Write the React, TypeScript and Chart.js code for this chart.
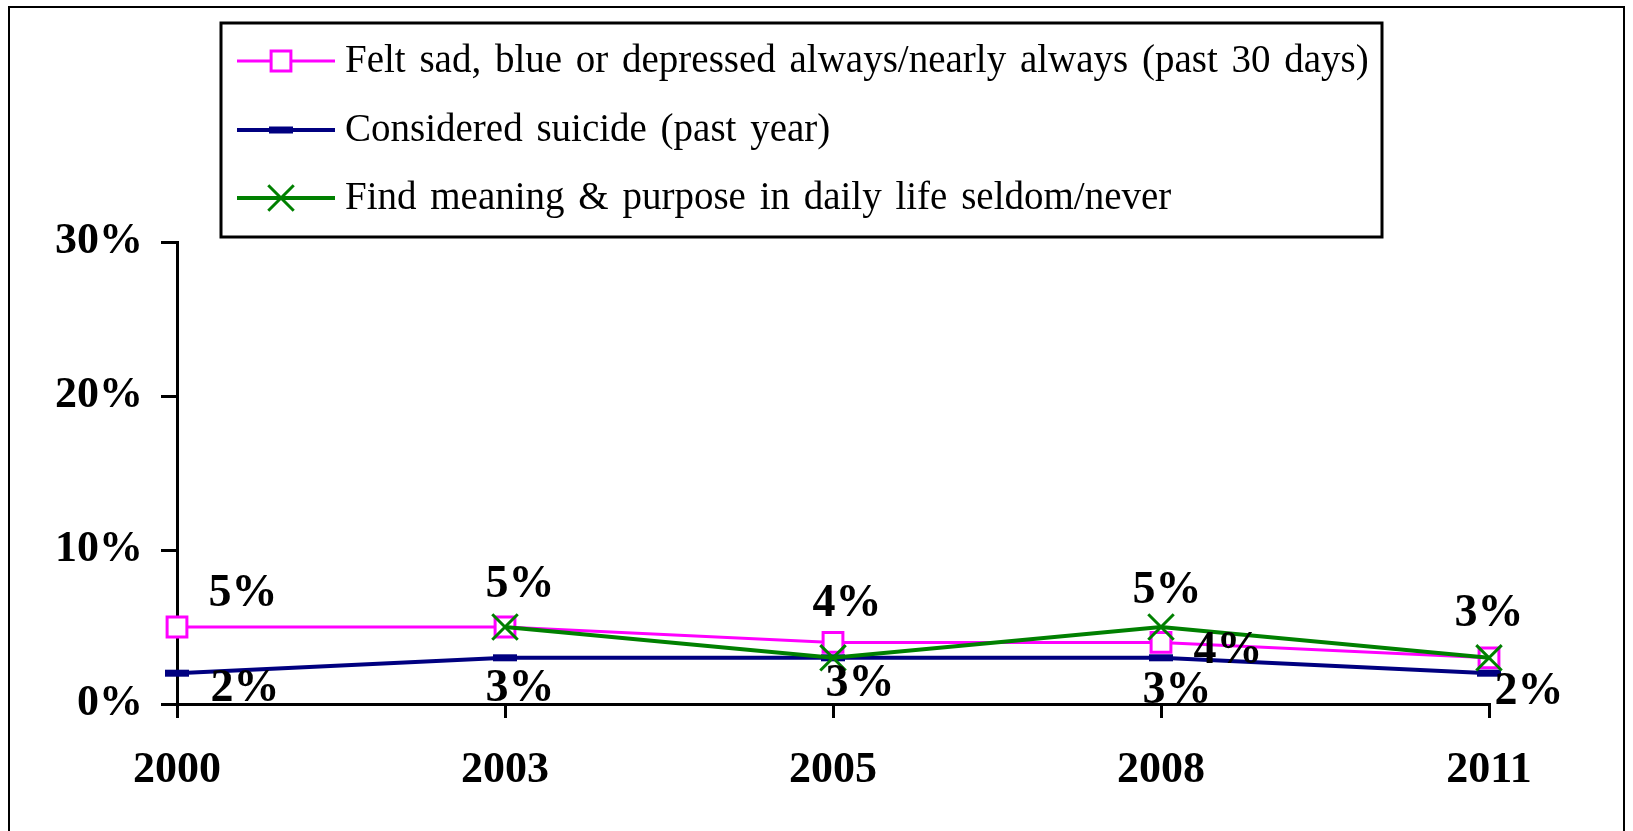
import React, { useEffect, useRef } from "react";
import { Chart, registerables } from "chart.js";
import { drawPoint } from "chart.js/helpers";

Chart.register(...registerables);

const years = ["2000", "2003", "2005", "2008", "2011"];
const feltSad = [5, 5, 4, 4, 3];
const consideredSuicide = [2, 3, 3, 3, 2];
const findMeaning = [null, 5, 3, 5, 3];
const seriesNames = [
  "Felt sad, blue or depressed always/nearly always (past 30 days)",
  "Considered suicide (past year)",
  "Find meaning & purpose in daily life seldom/never",
];
const yTickValues = [0, 10, 20, 30];

// label offsets (style only): [dx, dy] per point, null = hidden
const labelOffsets = [
  [[66, -33], [15, -42], [14, -38], [67, 9], [0, -44]],
  [[68, 16], [15, 31], null, [16, 33], [40, 19]],
  [null, null, [27, 26], [6, -36], null],
];

const SERIF = '"Liberation Serif", "Times New Roman", serif';

const frameAndLabels = {
  id: "frameAndLabels",
  beforeDraw(chart: any) {
    const ctx = chart.ctx;
    ctx.save();
    ctx.fillStyle = "#fff";
    ctx.fillRect(0, 0, chart.width, chart.height);
    ctx.strokeStyle = "#000";
    ctx.lineWidth = 2;
    ctx.strokeRect(9, 7, 1615, 900);
    ctx.restore();
  },
  afterDatasetsDraw(chart: any) {
    const ctx = chart.ctx;
    ctx.save();
    ctx.fillStyle = "#000";
    ctx.font = `bold 46px ${SERIF}`;
    ctx.textAlign = "center";
    ctx.textBaseline = "middle";
    chart.data.datasets.forEach((ds: any, i: number) => {
      const meta = chart.getDatasetMeta(i);
      meta.data.forEach((el: any, j: number) => {
        const v = ds.data[j];
        const off = labelOffsets[i][j];
        if (v == null || !off) return;
        ctx.fillText(`${v}%`, el.x + off[0], el.y + off[1]);
      });
    });
    ctx.restore();
  },
  afterDraw(chart: any) {
    const ctx = chart.ctx;
    ctx.save();
    // legend box
    ctx.fillStyle = "#fff";
    ctx.fillRect(221, 23, 1161, 214);
    ctx.strokeStyle = "#000";
    ctx.lineWidth = 3;
    ctx.strokeRect(221, 23, 1161, 214);
    const rows = [61, 130, 198];
    chart.data.datasets.forEach((ds: any, i: number) => {
      const y = rows[i];
      ctx.strokeStyle = ds.borderColor;
      ctx.lineWidth = ds.borderWidth;
      ctx.beginPath();
      ctx.moveTo(237, y);
      ctx.lineTo(335, y);
      ctx.stroke();
      ctx.fillStyle = ds.pointBackgroundColor;
      ctx.strokeStyle = ds.pointBorderColor;
      ctx.lineWidth = ds.pointBorderWidth;
      drawPoint(
        ctx,
        { pointStyle: ds.pointStyle, radius: ds.pointRadius, borderWidth: ds.pointBorderWidth, rotation: 0 } as any,
        281,
        y
      );
      ctx.fillStyle = "#000";
      ctx.font = `39px ${SERIF}`;
      try { (ctx as any).wordSpacing = "4px"; } catch (e) {}
      ctx.textAlign = "left";
      ctx.textBaseline = "middle";
      ctx.fillText(ds.label, 345, y + 1);
    });
    ctx.restore();
  },
};

export default function App() {
  const ref = useRef<HTMLCanvasElement>(null);
  useEffect(() => {
    const chart = new Chart(ref.current!, {
      type: "line",
      data: {
        labels: years,
        datasets: [
          {
            label: seriesNames[0],
            data: feltSad,
            borderColor: "#FF00FF",
            borderWidth: 3,
            pointStyle: "rect",
            pointRadius: 14,
            pointBorderWidth: 3,
            pointBackgroundColor: "#FFFFFF",
            pointBorderColor: "#FF00FF",
            order: 2,
          },
          {
            label: seriesNames[1],
            data: consideredSuicide,
            borderColor: "#000080",
            borderWidth: 4,
            pointStyle: "line",
            pointRadius: 12,
            pointBorderWidth: 7,
            pointBackgroundColor: "#000080",
            pointBorderColor: "#000080",
            order: 1,
          },
          {
            label: seriesNames[2],
            data: findMeaning,
            borderColor: "#008000",
            borderWidth: 4,
            pointStyle: "crossRot",
            pointRadius: 18,
            pointBorderWidth: 3,
            pointBackgroundColor: "#008000",
            pointBorderColor: "#008000",
            order: 0,
          },
        ] as any,
      },
      options: {
        responsive: false,
        animation: false,
        spanGaps: false,
        layout: { padding: { left: 0, top: 242, right: 144, bottom: 0 } },
        plugins: { legend: { display: false }, tooltip: { enabled: false } },
        scales: {
          x: {
            type: "category",
            offset: false,
            grid: { drawOnChartArea: false, drawTicks: true, tickLength: 14, color: "#000", lineWidth: 3 },
            border: { display: true, color: "#000", width: 3 },
            ticks: { color: "#000", font: { family: SERIF, size: 44, weight: "bold" }, padding: 26, maxRotation: 0 },
            afterFit: (s: any) => { s.height = 127; },
          },
          y: {
            min: 0,
            max: 30,
            afterBuildTicks: (s: any) => { s.ticks = yTickValues.map((v) => ({ value: v })); },
            grid: { drawOnChartArea: false, drawTicks: true, tickLength: 16, color: "#000", lineWidth: 3 },
            border: { display: true, color: "#000", width: 3 },
            ticks: {
              color: "#000",
              font: { family: SERIF, size: 44, weight: "bold" },
              padding: 18,
              callback: (v: any) => `${v}%`,
            },
            afterFit: (s: any) => { s.width = 177; },
          },
        },
      },
      plugins: [frameAndLabels],
    });
    return () => chart.destroy();
  }, []);
  return (
    <div style={{ position: "fixed", left: 0, top: 0, width: 1633, height: 831, background: "#fff" }}>
      <canvas ref={ref} width={1633} height={831} style={{ width: 1633, height: 831, display: "block" }} />
    </div>
  );
}
